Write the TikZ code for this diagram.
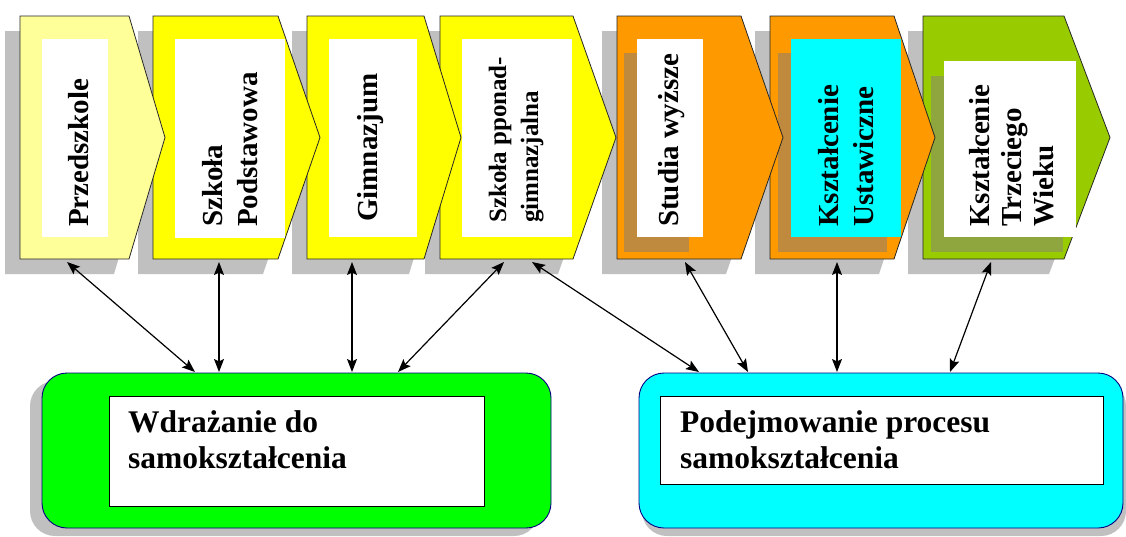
\documentclass[tikz,border=0pt]{standalone}
\usepackage{fontspec}
\setmainfont{Liberation Serif}
\usetikzlibrary{arrows.meta}
\definecolor{shadowgray}{HTML}{C0C0C0}
\definecolor{lightyel}{HTML}{FFFF99}
\definecolor{yel}{HTML}{FFFF00}
\definecolor{orng}{HTML}{FF9900}
\definecolor{lime}{HTML}{99CC00}
\definecolor{brownsh}{HTML}{C08A3E}
\definecolor{olivesh}{HTML}{8FA63F}
\definecolor{boxgreen}{HTML}{00FF00}
\definecolor{boxcyan}{HTML}{00FFFF}
\definecolor{navyline}{HTML}{000080}
\begin{document}
\begin{tikzpicture}[x=1pt,y=-1pt,
  chev/.style={draw=black!85, line width=0.8pt, line join=miter},
  lbl/.style={rotate=90, anchor=base west, align=left, inner sep=0pt,
    font=\bfseries\fontsize{29}{35}\selectfont},
  btext/.style={anchor=base west, align=left, inner sep=0pt,
    font=\bfseries\fontsize{31.5}{36}\selectfont},
  outerbox/.style={draw=navyline, line width=0.9pt, rounded corners=25pt,
    minimum height=155pt, inner sep=0pt},
  innerbox/.style={draw=black, line width=0.9pt, fill=white, anchor=north west, inner sep=0pt},
  conn/.style={{Stealth[length=13pt,width=10pt,inset=2.5pt]}-{Stealth[length=13pt,width=10pt,inset=2.5pt]}, line width=1.2pt},
]
\useasboundingbox (0,0) rectangle (1126,536);

% shadows of the chevrons
\foreach \l/\c/\t in {20/129/165,153/278/320,307/424/461,440/573/616,617/741/783,770/894/935,923/1064/1110}
  \fill[shadowgray] (\l-15,31) -- (\c-15,31) -- (\t-15,152.5) -- (\c-15,274) -- (\l-15,274) -- cycle;

% (for multi-line labels the base anchor sits on the last line)
% chevron 7
\path[chev, fill=lime] (923,16) -- (1064,16) -- (1110,137.5) -- (1064,259) -- (923,259) -- cycle;
\fill[olivesh] (931,76) rectangle (1063,252);
\fill[white] (944,61) rectangle (1076,237);
\node[lbl, font=\bfseries\fontsize{29}{32}\selectfont] (t7) at (1053,227) {Kształcenie\\Trzeciego\\Wieku};

% chevron 6
\path[chev, fill=orng] (770,16) -- (894,16) -- (935,137.5) -- (894,259) -- (770,259) -- cycle;
\fill[brownsh] (778,53) rectangle (887,252);
\fill[boxcyan] (791,39) rectangle (901,237);
\node[lbl] (t6) at (873,227) {Kształcenie\\Ustawiczne};

% chevron 5
\path[chev, fill=orng] (617,16) -- (741,16) -- (783,137.5) -- (741,259) -- (617,259) -- cycle;
\fill[brownsh] (624,53) rectangle (689,252);
\fill[white] (637,39) rectangle (703,237);
\node[lbl] (t5) at (678,227) {Studia wyższe};

% chevron 4
\path[chev, fill=yel] (440,16) -- (573,16) -- (616,137.5) -- (573,259) -- (440,259) -- cycle;
\fill[white] (462,39) rectangle (572,237);
\node[lbl, font=\bfseries\fontsize{25}{32}\selectfont] (t4) at (538,223) {Szkoła pponad-\\gimnazjalna};

% chevron 3
\path[chev, fill=yel] (307,16) -- (424,16) -- (461,137.5) -- (424,259) -- (307,259) -- cycle;
\fill[white] (329,39) rectangle (417,237);
\node[lbl] (t3) at (377,222) {Gimnazjum};

% chevron 2
\path[chev, fill=yel] (153,16) -- (278,16) -- (320,137.5) -- (278,259) -- (153,259) -- cycle;
\fill[white] (175,39) rectangle (285,238);
\node[lbl] (t2) at (257,227) {Szkoła\\Podstawowa};

% chevron 1
\path[chev, fill=lightyel] (20,16) -- (129,16) -- (165,137.5) -- (129,259) -- (20,259) -- cycle;
\fill[white] (42,39) rectangle (108,237);
\node[lbl] (t1) at (88,227) {Przedszkole};

% bottom boxes
\fill[shadowgray, rounded corners=25pt] (30,381) rectangle (539,536);
\node[outerbox, fill=boxgreen, minimum width=509pt] (gbox) at (296.5,450.5) {};
\node[innerbox, minimum width=375pt, minimum height=110pt] (gin) at (109,396) {};
\node[btext] (gtxt) at (128,468) {Wdrażanie do\\samokształcenia};

\fill[shadowgray, rounded corners=25pt] (642,381) rectangle (1126,536);
\node[outerbox, fill=boxcyan, minimum width=484pt] (cbox) at (881,450.5) {};
\node[innerbox, minimum width=443pt, minimum height=88pt] (cin) at (660,396) {};
\node[btext] (ctxt) at (680,468) {Podejmowanie procesu\\samokształcenia};

% connector ends
\coordinate (u1) at (67,262);  \coordinate (d1) at (195,372);
\coordinate (u2) at (219,262); \coordinate (d2) at (219,372);
\coordinate (u3) at (352,262); \coordinate (d3) at (352,372);
\coordinate (u4) at (504,262); \coordinate (d4) at (398,372);
\coordinate (u5) at (532,262); \coordinate (d5) at (699,372);
\coordinate (u6) at (685,262); \coordinate (d6) at (748,372);
\coordinate (u7) at (837,262); \coordinate (d7) at (837,372);
\coordinate (u8) at (991,262); \coordinate (d8) at (950,372);

\foreach \i in {1,...,8}
  \draw[conn] (u\i) -- (d\i);
\end{tikzpicture}
\end{document}
